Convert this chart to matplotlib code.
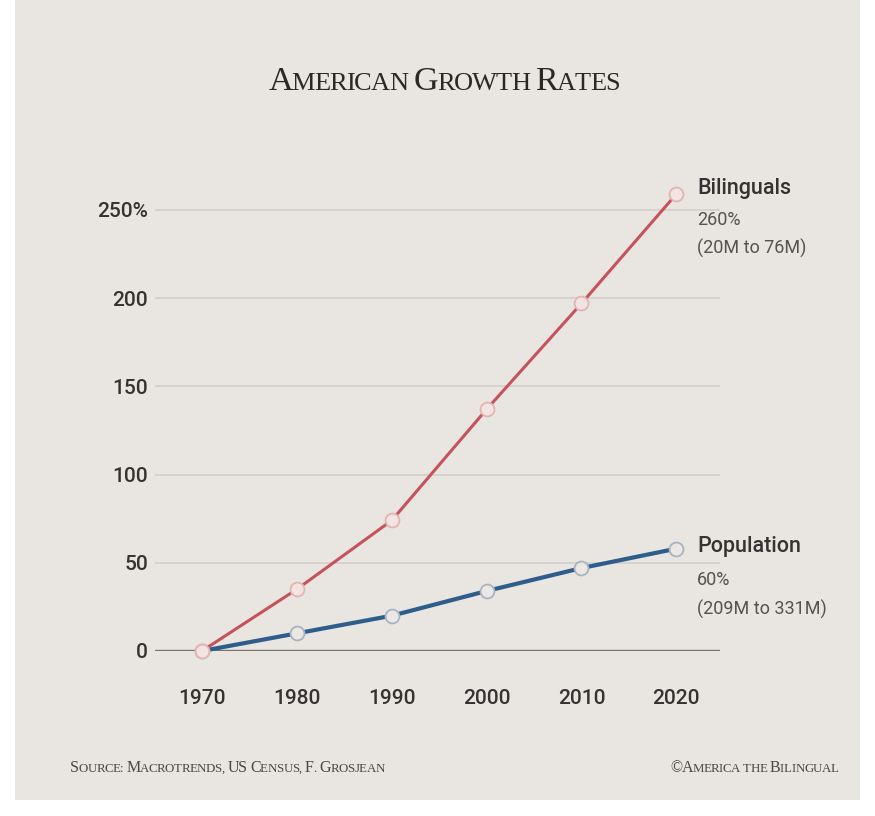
import matplotlib
matplotlib.use("Agg")
import matplotlib.pyplot as plt
from matplotlib.patches import Rectangle

years = [1970, 1980, 1990, 2000, 2010, 2020]
bilinguals = [0, 35, 74, 137, 197, 259]
population = [0, 10, 20, 34, 47, 58]
y_ticks = [0, 50, 100, 150, 200, 250]
y_tick_labels = ["0", "50", "100", "150", "200", "250%"]

bg = "#e9e6e2"
red = "#c6525b"
blue = "#2e5d8c"
text_col = "#353331"

fig = plt.figure(figsize=(8.75, 8.16), dpi=100)
fig.patch.set_facecolor("white")
fig.patches.append(Rectangle((15 / 875, 16 / 816), 845 / 875, 800 / 816,
                             transform=fig.transFigure, facecolor=bg,
                             edgecolor="none", zorder=-5))

ax = fig.add_axes([155 / 875, 1 - 651 / 816, 565 / 875, 461 / 816])
ax.set_zorder(2)
ax.set_facecolor("none")
ax.set_xlim(1965.05, 2024.6)
ax.set_ylim(0, 261.3)

for t in y_ticks[1:]:
    ax.axhline(t, color="#d3cfcb", lw=1.2, zorder=1)
ax.axhline(0, color="#77736f", lw=2.4, zorder=2)

ax.plot(years, bilinguals, color=red, lw=2.2, marker="o", ms=10,
        mfc="#f3e3e1", mec="#e2b4b2", mew=1.3, zorder=4, clip_on=False)
ax.plot(years, population, color=blue, lw=3, marker="o", ms=10,
        mfc="#ebe7e4", mec="#a9b3bf", mew=1.3, zorder=3, clip_on=False)

for s in ax.spines.values():
    s.set_visible(False)
ax.set_yticks(y_ticks)
ax.set_yticklabels(y_tick_labels)
ax.set_xticks(years)
ax.tick_params(length=0, labelsize=15, labelcolor=text_col)
ax.tick_params(axis="y", pad=5)
ax.tick_params(axis="x", pad=27)
for lab in ax.get_xticklabels() + ax.get_yticklabels():
    lab.set_family("Roboto")
    lab.set_fontweight("medium")

# end labels
ax.annotate("Bilinguals", (years[-1], bilinguals[-1]), xytext=(15, 4),
            textcoords="offset points", fontsize=15.5, fontweight="medium",
            family="Roboto", color=text_col, va="center", annotation_clip=False)
ax.annotate("260%\n(20M to 76M)", (years[-1], bilinguals[-1]), xytext=(15, -12),
            textcoords="offset points", fontsize=13, family="Roboto",
            color="#55524f", va="top", linespacing=1.7, annotation_clip=False)
ax.annotate("Population", (years[-1], population[-1]), xytext=(15, 1.5),
            textcoords="offset points", fontsize=15.5, fontweight="medium",
            family="Roboto", color=text_col, va="center", annotation_clip=False)
ax.annotate("60%\n(209M to 331M)", (years[-1], population[-1]), xytext=(15, -16),
            textcoords="offset points", fontsize=13, family="Roboto",
            color="#55524f", va="top", linespacing=1.7, annotation_clip=False)


def small_caps(x, y, text, big, small, ha="left", color=text_col):
    # fake small caps: capitals drawn big, the rest upper-case and smaller
    fig.canvas.draw()
    r = fig.canvas.get_renderer()
    arts = []
    cx = 0
    for ch in text:
        size = big if (ch.isupper() or ch == "\u00a9") else small
        t = fig.text(0, y, ch.upper(), fontsize=size, family="Liberation Serif",
                     color=color, va="baseline")
        w = t.get_window_extent(r).width / fig.bbox.width
        if ch == " ":
            w = size * 0.25 / (fig.get_figwidth() * 72)
        arts.append((t, cx))
        cx += w * 0.95
    start = x if ha == "left" else (x - cx if ha == "right" else x - cx / 2)
    for t, off in arts:
        t.set_x(start + off)


small_caps(0.507, 1 - 90 / 816, "American Growth Rates", 24.5, 19, ha="center",
           color="#2b2927")
small_caps(70 / 875, 1 - 772 / 816, "Source: Macrotrends, US Census, F. Grosjean",
           11.5, 9.3, color="#4a4744")
small_caps(838 / 875, 1 - 772 / 816, "\u00a9America the Bilingual", 11.5, 9.3,
           ha="right", color="#4a4744")

fig.savefig("out.png", dpi=100, facecolor=fig.get_facecolor())
